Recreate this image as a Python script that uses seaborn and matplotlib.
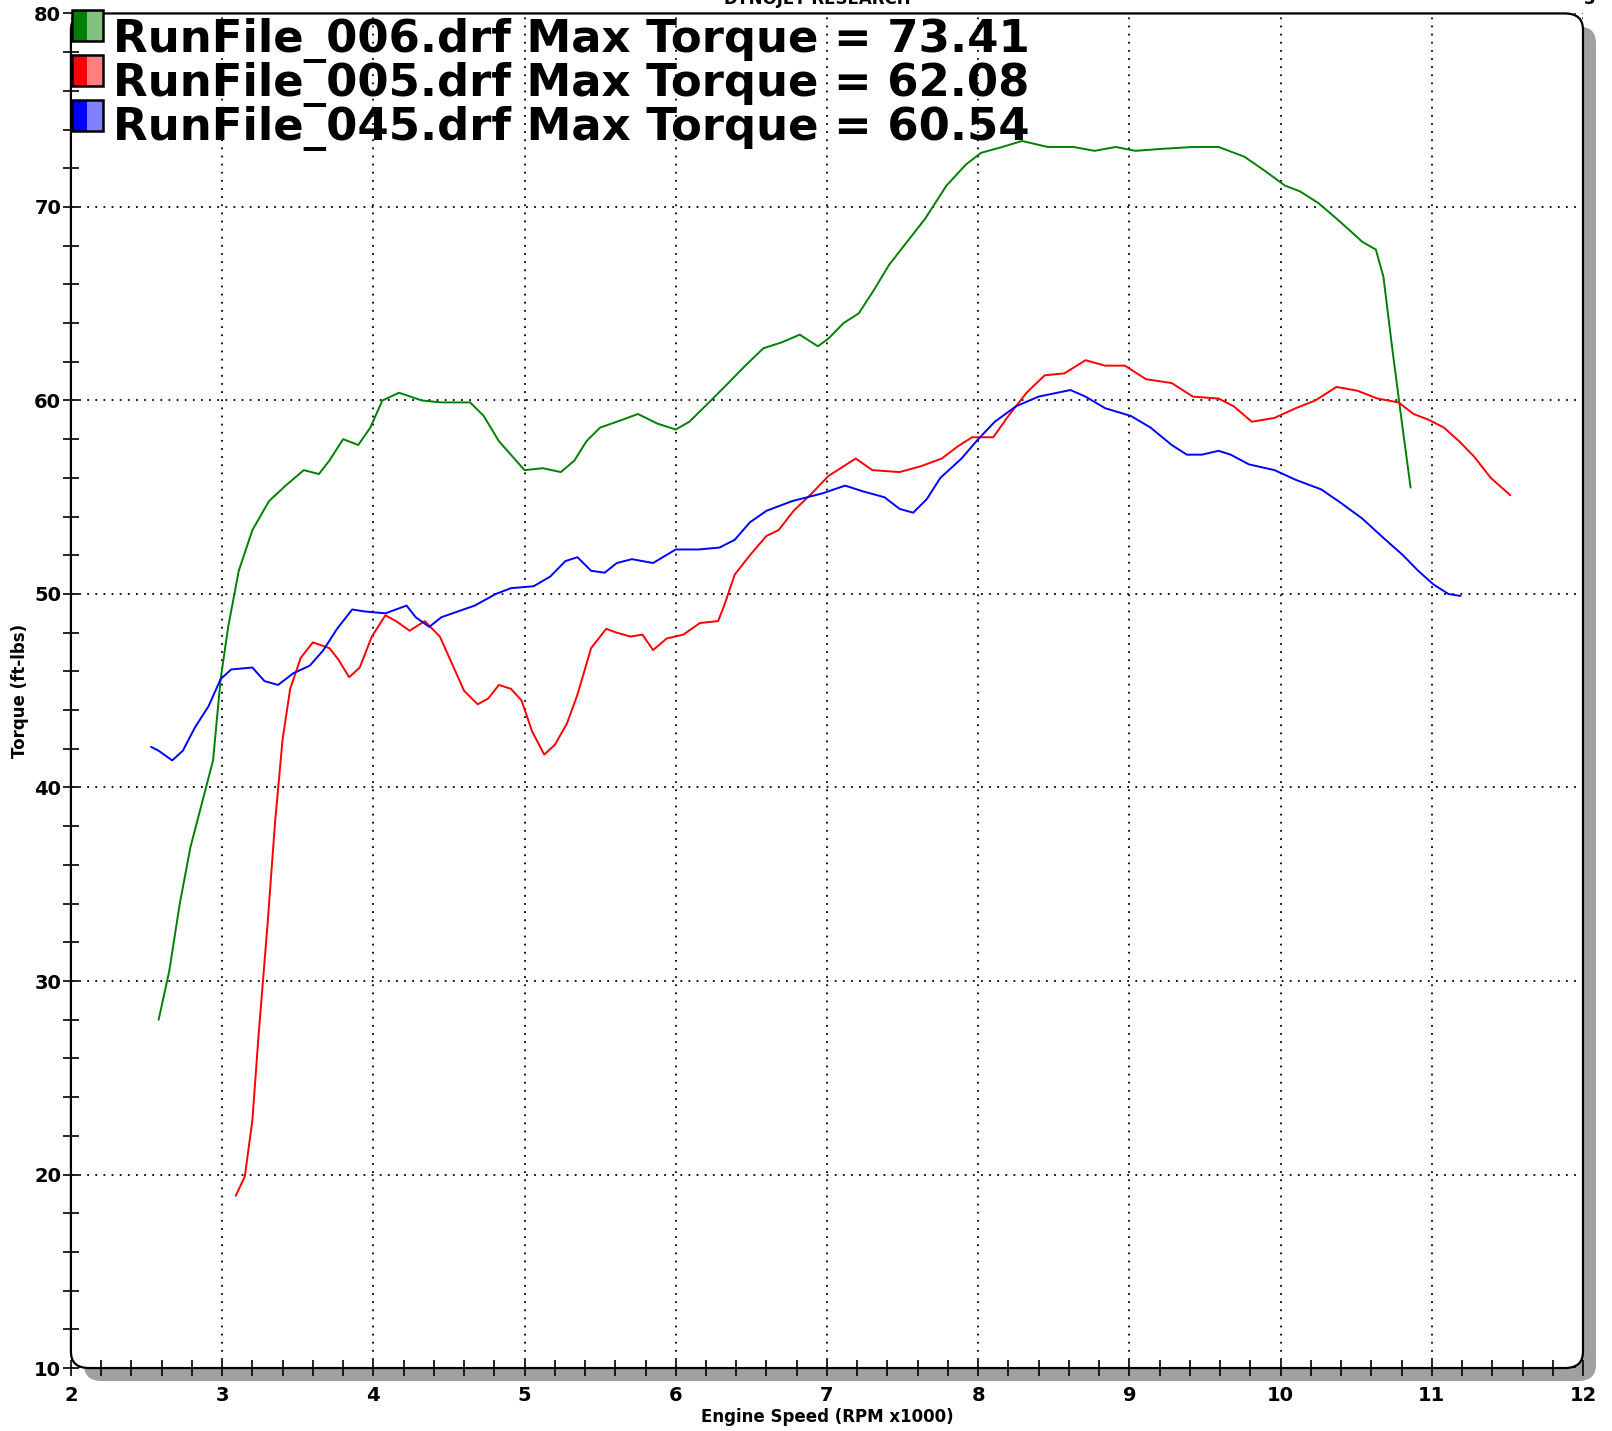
import matplotlib
matplotlib.use("Agg")
import matplotlib.pyplot as plt
import seaborn as sns
import pandas as pd
from matplotlib.patches import FancyBboxPatch, Rectangle
from matplotlib.ticker import MultipleLocator

rpm_006 = [2.58, 2.65, 2.72, 2.79, 2.87, 2.94, 2.99, 3.04, 3.11, 3.20, 3.31, 3.42, 3.54, 3.64, 3.71,
           3.80, 3.90, 3.98, 4.06, 4.17, 4.32, 4.45, 4.64, 4.73, 4.83, 5.00, 5.12, 5.24, 5.33, 5.41,
           5.50, 5.61, 5.75, 5.88, 6.00, 6.09, 6.22, 6.36, 6.46, 6.58, 6.70, 6.82, 6.94, 7.01, 7.11,
           7.21, 7.31, 7.41, 7.55, 7.65, 7.79, 7.92, 8.02, 8.16, 8.29, 8.46, 8.63, 8.77, 8.91, 9.04,
           9.21, 9.42, 9.59, 9.76, 9.89, 10.03, 10.13, 10.25, 10.37, 10.47, 10.54, 10.63, 10.68,
           10.74, 10.81, 10.86]
tq_006 = [28.0, 30.5, 34.0, 36.9, 39.3, 41.4, 45.6, 48.3, 51.2, 53.3, 54.8, 55.6, 56.4, 56.2, 56.9,
          58.0, 57.7, 58.6, 60.0, 60.4, 60.0, 59.9, 59.9, 59.2, 57.9, 56.4, 56.5, 56.3, 56.9, 57.9,
          58.6, 58.9, 59.3, 58.8, 58.5, 58.9, 59.9, 61.0, 61.8, 62.7, 63.0, 63.4, 62.8, 63.2, 64.0,
          64.5, 65.7, 67.0, 68.4, 69.4, 71.1, 72.2, 72.8, 73.1, 73.41, 73.1, 73.1, 72.9, 73.1, 72.9,
          73.0, 73.1, 73.1, 72.6, 71.9, 71.1, 70.8, 70.2, 69.4, 68.7, 68.2, 67.8, 66.4,
          62.6, 58.4, 55.5]

rpm_005 = [3.09, 3.15, 3.20, 3.24, 3.30, 3.35, 3.40, 3.45, 3.52, 3.60, 3.71, 3.77, 3.84, 3.91, 3.99,
           4.08, 4.15, 4.24, 4.34, 4.44, 4.52, 4.60, 4.69, 4.76, 4.83, 4.91, 4.98, 5.05, 5.13, 5.20,
           5.28, 5.35, 5.44, 5.54, 5.61, 5.70, 5.78, 5.85, 5.94, 6.05, 6.16, 6.28, 6.32, 6.39, 6.49,
           6.60, 6.68, 6.78, 6.90, 7.01, 7.09, 7.19, 7.30, 7.48, 7.62, 7.76, 7.86, 7.96, 8.10, 8.20,
           8.32, 8.44, 8.57, 8.71, 8.84, 8.97, 9.11, 9.28, 9.42, 9.59, 9.69, 9.81, 9.96, 10.10,
           10.23, 10.37, 10.51, 10.64, 10.78, 10.88, 10.98, 11.08, 11.18, 11.28, 11.39, 11.52]
tq_005 = [18.9, 19.9, 22.8, 27.1, 32.9, 38.2, 42.5, 45.1, 46.7, 47.5, 47.2, 46.6, 45.7, 46.2, 47.8,
          48.9, 48.6, 48.1, 48.6, 47.8, 46.4, 45.0, 44.3, 44.6, 45.3, 45.1, 44.5, 42.9, 41.7, 42.2,
          43.3, 44.8, 47.2, 48.2, 48.0, 47.8, 47.9, 47.1, 47.7, 47.9, 48.5, 48.6, 49.4, 51.0, 52.0,
          53.0, 53.3, 54.3, 55.2, 56.1, 56.5, 57.0, 56.4, 56.3, 56.6, 57.0, 57.6, 58.1, 58.1, 59.2,
          60.4, 61.3, 61.4, 62.08, 61.8, 61.8, 61.1, 60.9, 60.2, 60.1, 59.7, 58.9, 59.1, 59.6,
          60.0, 60.7, 60.5, 60.1, 59.9, 59.3, 59.0, 58.6, 57.9, 57.1, 56.0, 55.1]

rpm_045 = [2.53, 2.58, 2.67, 2.74, 2.82, 2.91, 2.99, 3.06, 3.20, 3.28, 3.37, 3.47, 3.58, 3.67, 3.76,
           3.86, 3.94, 4.08, 4.22, 4.28, 4.37, 4.45, 4.56, 4.67, 4.81, 4.91, 5.06, 5.17, 5.27, 5.35,
           5.44, 5.53, 5.61, 5.71, 5.85, 6.00, 6.15, 6.29, 6.39, 6.49, 6.60, 6.77, 6.97, 7.12, 7.24,
           7.38, 7.48, 7.57, 7.66, 7.75, 7.89, 8.00, 8.11, 8.25, 8.40, 8.61, 8.71, 8.84, 9.01, 9.14,
           9.28, 9.38, 9.48, 9.59, 9.67, 9.79, 9.96, 10.10, 10.27, 10.40, 10.54, 10.68, 10.81, 10.91,
           11.01, 11.11, 11.19]
tq_045 = [42.1, 41.9, 41.4, 41.9, 43.1, 44.2, 45.6, 46.1, 46.2, 45.5, 45.3, 45.9, 46.3, 47.1, 48.2,
          49.2, 49.1, 49.0, 49.4, 48.8, 48.3, 48.8, 49.1, 49.4, 50.0, 50.3, 50.4, 50.9, 51.7, 51.9,
          51.2, 51.1, 51.6, 51.8, 51.6, 52.3, 52.3, 52.4, 52.8, 53.7, 54.3, 54.8, 55.2, 55.6, 55.3,
          55.0, 54.4, 54.2, 54.9, 56.0, 57.0, 58.0, 58.9, 59.7, 60.2, 60.54, 60.2, 59.6, 59.2, 58.6,
          57.7, 57.2, 57.2, 57.4, 57.2, 56.7, 56.4, 55.9, 55.4, 54.7, 53.9, 52.9, 52.0, 51.2,
          50.5, 50.0, 49.9]

runs = ["RunFile_006.drf", "RunFile_005.drf", "RunFile_045.drf"]
max_tq = [73.41, 62.08, 60.54]
farben = ["#008000", "#ff0000", "#0000ff"]
farben_hell = ["#80c080", "#ff8080", "#8080ff"]

df = pd.concat([
    pd.DataFrame({"rpm": rpm_006, "tq": tq_006, "run": runs[0]}),
    pd.DataFrame({"rpm": rpm_005, "tq": tq_005, "run": runs[1]}),
    pd.DataFrame({"rpm": rpm_045, "tq": tq_045, "run": runs[2]}),
], ignore_index=True)

sns.set_style("white")
plt.rcParams["font.family"] = ["DejaVu Sans"]
plt.rcParams["font.weight"] = "bold"
plt.rcParams["text.color"] = "black"
plt.rcParams["axes.labelcolor"] = "black"
plt.rcParams["xtick.color"] = "black"
plt.rcParams["ytick.color"] = "black"

fig = plt.figure(figsize=(16.12, 14.31), dpi=100)
ax = fig.add_axes([0.044, 0.044, 0.938, 0.9466])
ax.set_facecolor("none")

# Rahmen mit runden Ecken + grauer Schatten
schatten = FancyBboxPatch((0.0086, -0.0096), 1, 1, boxstyle="round,pad=0,rounding_size=0.012",
                          transform=ax.transAxes, facecolor="#a0a0a0", edgecolor="none",
                          clip_on=False, zorder=0)
rahmen = FancyBboxPatch((0, 0), 1, 1, boxstyle="round,pad=0,rounding_size=0.012",
                        transform=ax.transAxes, facecolor="white", edgecolor="black",
                        linewidth=1.6, clip_on=False, zorder=0.1)
ax.add_patch(schatten); ax.add_patch(rahmen)
for sp in ax.spines.values():
    sp.set_visible(False)

sns.lineplot(data=df, x="rpm", y="tq", hue="run", palette=dict(zip(runs, farben)),
             sort=False, estimator=None, linewidth=1.4, legend=False, ax=ax, zorder=3)

ax.set_xlim(2, 12); ax.set_ylim(10, 80)
ax.xaxis.set_major_locator(MultipleLocator(1)); ax.xaxis.set_minor_locator(MultipleLocator(0.2))
ax.yaxis.set_major_locator(MultipleLocator(10)); ax.yaxis.set_minor_locator(MultipleLocator(2))
ax.grid(True, which="major", color="black", linestyle=(0, (1, 3.5)), linewidth=1.3)
ax.tick_params(which="both", bottom=True, left=True, top=False, right=False,
               direction="inout", length=12, width=1.2, color="black")
ax.tick_params(axis="x", which="major", labelsize=14, pad=7)
ax.tick_params(axis="y", which="major", labelsize=14, pad=1)

ax.set_xlabel("Engine Speed (RPM x1000)", fontsize=12, fontweight="bold", labelpad=2)
ax.set_ylabel("Torque (ft-lbs)", fontsize=12, fontweight="bold", labelpad=4)

# Legende: zweifarbige Kästchen + grosse Texte
sw_w, sw_h = 0.0205, 0.0229
sw_y = [0.9909, 0.9579, 0.9250]
txt_y = [0.9800, 0.9475, 0.9150]
for i in range(3):
    y0 = sw_y[i] - sw_h / 2
    ax.add_patch(Rectangle((0.0007, y0), sw_w / 2, sw_h, facecolor=farben[i], edgecolor="none",
                           transform=ax.transAxes, clip_on=False, zorder=5))
    ax.add_patch(Rectangle((0.0007 + sw_w / 2, y0), sw_w / 2, sw_h, facecolor=farben_hell[i],
                           edgecolor="none", transform=ax.transAxes, clip_on=False, zorder=5))
    ax.add_patch(Rectangle((0.0007, y0), sw_w, sw_h, facecolor="none", edgecolor="black",
                           linewidth=1.8, transform=ax.transAxes, clip_on=False, zorder=6))
    ax.text(0.0278, txt_y[i], f"{runs[i]} Max Torque = {max_tq[i]:.2f}", transform=ax.transAxes,
            fontsize=32.4, fontweight="bold", va="center", ha="left", zorder=6)

fig.text(0.507, 1.0005, "DYNOJET RESEARCH", fontsize=12, fontweight="bold", ha="center", va="center")
fig.text(0.986, 1.0005, "3", fontsize=12, fontweight="bold", ha="center", va="center")

fig.savefig("out.png", dpi=100)
